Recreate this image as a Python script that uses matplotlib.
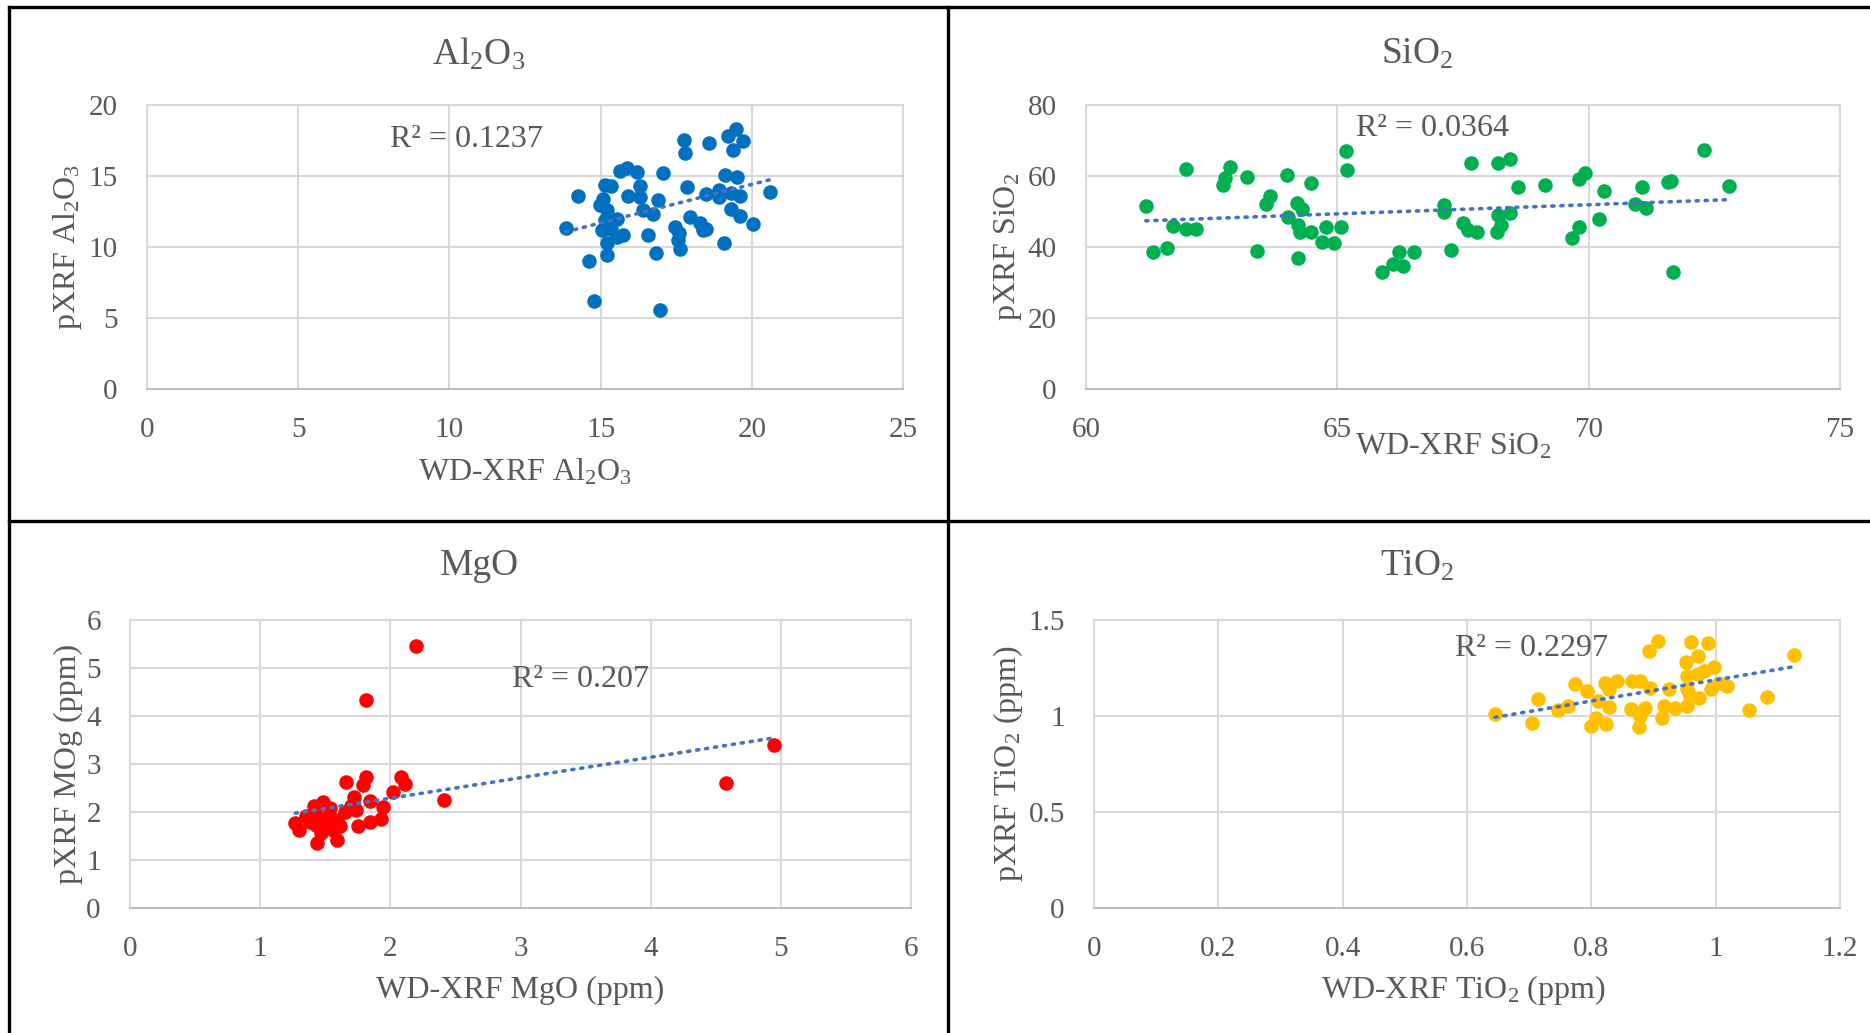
import matplotlib
matplotlib.use("Agg")
import matplotlib.pyplot as plt
from matplotlib.lines import Line2D
import numpy as np

plt.rcParams['font.family'] = ['Liberation Serif', 'DejaVu Serif']
plt.rcParams['mathtext.fontset'] = 'custom'
plt.rcParams['mathtext.rm'] = 'Liberation Serif'
plt.rcParams['mathtext.it'] = 'Liberation Serif:italic'

# ---------------- data ----------------
al_x = [13.85, 14.24, 14.63, 14.78, 15.14, 15.36, 15.07, 14.98, 15.2, 15.14, 15.53, 15.03, 15.36,
        15.75, 15.2, 15.2, 15.64, 15.86, 16.2, 16.3, 15.9, 16.3, 16.4, 16.74, 16.9, 17.05, 16.57,
        16.83, 16.98, 17.75, 17.8, 17.86, 17.46, 17.6, 17.57, 17.62, 17.95, 18.28, 18.5, 18.37,
        18.6, 18.5, 18.9, 18.9, 19.1, 19.5, 19.3, 19.6, 19.3, 19.6, 19.09, 20.04, 20.6, 19.2,
        19.47, 19.7, 19.38, 15.25, 15.53]
al_y = [11.36, 13.6, 9.0, 6.2, 14.37, 14.3, 13.4, 12.96, 12.6, 11.9, 12.0, 11.2, 11.3,
        10.85, 10.26, 9.44, 15.38, 15.54, 15.3, 14.3, 13.6, 13.5, 12.6, 12.3, 13.3, 15.19, 10.85,
        9.55, 5.56, 17.54, 16.64, 14.25, 11.43, 10.96, 10.5, 9.84, 12.1, 11.7, 11.3, 11.2,
        17.3, 13.7, 14.0, 13.5, 15.07, 14.9, 13.8, 13.6, 12.65, 12.2, 10.26, 11.6, 13.9, 17.8,
        18.3, 17.46, 16.8, 11.4, 10.7]

si_x = [61.19, 61.33, 61.62, 61.98, 61.74, 61.99, 62.19, 62.86, 62.77, 62.73, 63.21, 63.4, 63.66,
        63.58, 64.0, 64.19, 64.29, 64.02, 64.22, 64.26, 64.48, 64.48, 64.22, 64.77, 64.69, 64.94,
        65.07, 65.17, 65.19, 65.89, 66.11, 66.3, 66.23, 66.53, 67.13, 67.13, 67.27, 67.5, 67.59,
        67.77, 67.65, 68.19, 68.43, 68.2, 68.43, 68.26, 68.17, 68.6, 69.13, 69.66, 69.81, 69.81,
        69.93, 70.2, 70.31, 70.92, 71.14, 71.07, 71.58, 71.64, 71.68, 72.3, 72.79]
si_y = [51.5, 38.5, 39.8, 62.0, 46.0, 45.0, 45.2, 62.6, 59.3, 57.5, 59.6, 38.9, 54.5,
        52.1, 60.3, 52.5, 50.7, 48.4, 46.2, 44.3, 44.3, 57.9, 36.8, 45.7, 41.5, 41.2,
        45.7, 67.0, 61.7, 33.0, 35.2, 34.6, 38.5, 38.7, 51.8, 49.8, 39.2, 46.7, 44.8,
        44.3, 63.6, 63.6, 64.8, 49.0, 49.5, 46.2, 44.3, 56.8, 57.5, 42.6, 45.7, 59.2,
        60.9, 47.8, 55.8, 52.0, 51.1, 56.8, 58.2, 58.6, 32.9, 67.3, 57.2]

mg_x = [2.195, 1.81, 1.66, 1.81, 1.79, 1.72, 2.08, 2.11, 2.02, 2.415, 1.70, 1.74, 1.84, 1.94,
        1.93, 1.84, 1.75, 1.27, 1.30, 1.35, 1.415, 1.48, 1.54, 1.43, 1.53, 1.59, 1.50, 1.43,
        1.56, 1.47, 1.59, 1.44, 1.38, 1.61, 1.65, 4.58, 4.95]
mg_y = [5.45, 4.34, 2.63, 2.73, 2.57, 2.31, 2.73, 2.59, 2.41, 2.24, 2.12, 2.05, 2.22, 2.10,
        1.85, 1.80, 1.70, 1.77, 1.63, 1.91, 2.12, 2.20, 2.08, 1.98, 1.91, 1.84, 1.77, 1.73,
        1.63, 1.56, 1.42, 1.36, 1.80, 1.70, 1.99, 2.61, 3.39]

ti_x = [0.645, 0.705, 0.714, 0.746, 0.763, 0.774, 0.793, 0.81, 0.80, 0.808, 0.824, 0.828, 0.822,
        0.841, 0.828, 0.864, 0.865, 0.879, 0.886, 0.879, 0.876, 0.892, 0.907, 0.895, 0.913, 0.917,
        0.925, 0.934, 0.952, 0.961, 0.972, 0.988, 0.954, 0.972, 0.981, 0.997, 0.954, 0.958, 0.973,
        0.954, 0.993, 1.005, 1.019, 1.053, 1.082, 1.126]
ti_y = [1.012, 0.965, 1.087, 1.03, 1.052, 1.165, 1.13, 1.078, 0.948, 0.99, 0.956, 1.049, 1.17,
        1.183, 1.139, 1.035, 1.183, 1.183, 1.044, 1.0, 0.944, 1.34, 1.389, 1.148, 0.99, 1.052,
        1.139, 1.044, 1.279, 1.383, 1.314, 1.378, 1.209, 1.218, 1.235, 1.253, 1.052, 1.105, 1.096,
        1.139, 1.139, 1.174, 1.157, 1.031, 1.101, 1.317]

titles = ['Al$_2$O$_3$', 'SiO$_2$', 'MgO', 'TiO$_2$']
xlabels = ['WD-XRF Al$_2$O$_3$', 'WD-XRF SiO$_2$', 'WD-XRF MgO (ppm)', 'WD-XRF TiO$_2$ (ppm)']
ylabels = ['pXRF Al$_2$O$_3$', 'pXRF SiO$_2$', 'pXRF MOg (ppm)', 'pXRF TiO$_2$ (ppm)']
r2_texts = ['R² = 0.1237', 'R² = 0.0364', 'R² = 0.207', 'R² = 0.2297']
xticks = [[0, 5, 10, 15, 20, 25], [60, 65, 70, 75], [0, 1, 2, 3, 4, 5, 6],
          [0, 0.2, 0.4, 0.6, 0.8, 1, 1.2]]
xticklabels = [['0', '5', '10', '15', '20', '25'], ['60', '65', '70', '75'],
               ['0', '1', '2', '3', '4', '5', '6'], ['0', '0.2', '0.4', '0.6', '0.8', '1', '1.2']]
yticks = [[0, 5, 10, 15, 20], [0, 20, 40, 60, 80], [0, 1, 2, 3, 4, 5, 6], [0, 0.5, 1, 1.5]]
yticklabels = [['0', '5', '10', '15', '20'], ['0', '20', '40', '60', '80'],
               ['0', '1', '2', '3', '4', '5', '6'], ['0', '0.5', '1', '1.5']]
colors = ['#0070C0', '#00B050', '#FF0000', '#FFC000']

# ---------------- layout ----------------
W, H = 1870, 1033
fig = plt.figure(figsize=(W / 100, H / 100), dpi=100)
fig.patch.set_facecolor('white')

def frac_box(x0, y0, x1, y1):
    return [x0 / W, 1 - y1 / H, (x1 - x0) / W, (y1 - y0) / H]

boxes = [(147, 105, 903, 389), (1086, 105, 1840, 389),
         (130, 620, 911, 908), (1094, 620, 1840, 908)]
title_pos = [(479, 54), (1417, 54), (479, 566), (1417, 566)]
xlabel_pos = [(525, 472), (1453, 447), (520, 990), (1463, 990)]
ylabel_x = [68, 1008, 68, 1008]
r2_pos = [(0.422, 0.878), (0.459, 0.919), (0.577, 0.792), (0.586, 0.90)]

datasets = [(al_x, al_y), (si_x, si_y), (mg_x, mg_y), (ti_x, ti_y)]
grey_text = '#595959'
grid_c = '#d9d9d9'

for i, (xs, ys) in enumerate(datasets):
    ax = fig.add_axes(frac_box(*boxes[i]))
    xs = np.array(xs); ys = np.array(ys)
    ax.scatter(xs, ys, s=110, color=colors[i], zorder=3, linewidths=0)
    coef = np.polyfit(xs, ys, 1)
    xx = np.array([xs.min(), xs.max()])
    ax.plot(xx, np.polyval(coef, xx), color='#4472C4', lw=2.6, ls=(0, (0.6, 1.9)),
            dash_capstyle='round', zorder=4)
    ax.set_xlim(xticks[i][0], xticks[i][-1])
    ax.set_ylim(yticks[i][0], yticks[i][-1])
    ax.set_xticks(xticks[i]); ax.set_xticklabels(xticklabels[i])
    ax.set_yticks(yticks[i]); ax.set_yticklabels(yticklabels[i])
    ax.tick_params(length=0, labelsize=21, labelcolor=grey_text)
    ax.tick_params(axis='x', pad=20)
    ax.tick_params(axis='y', pad=21)
    ax.grid(True, color=grid_c, lw=1.5, zorder=0)
    ax.set_axisbelow(True)
    for sp in ax.spines.values():
        sp.set_color(grid_c); sp.set_linewidth(1.5)
    ax.spines['bottom'].set_color('#bfbfbf')
    ax.text(r2_pos[i][0], r2_pos[i][1], r2_texts[i], transform=ax.transAxes,
            ha='center', va='center', fontsize=23, color=grey_text, zorder=5)
    # titles and labels in figure pixels
    tx, ty = title_pos[i]
    fig.text(tx / W, 1 - ty / H, titles[i], ha='center', va='center', fontsize=27, color=grey_text)
    lx, ly = xlabel_pos[i]
    fig.text(lx / W, 1 - ly / H, xlabels[i], ha='center', va='center', fontsize=23, color=grey_text)
    b = boxes[i]
    fig.text(ylabel_x[i] / W, 1 - ((b[1] + b[3]) / 2) / H, ylabels[i], ha='center', va='center',
             rotation=90, fontsize=23, color=grey_text)

# table borders
def hline(y, x0, x1):
    fig.add_artist(Line2D([x0 / W, x1 / W], [1 - y / H, 1 - y / H], color='black', lw=2.4,
                          transform=fig.transFigure))

def vline(x, y0, y1):
    fig.add_artist(Line2D([x / W, x / W], [1 - y0 / H, 1 - y1 / H], color='black', lw=2.4,
                          transform=fig.transFigure))

hline(7, 9, W)
hline(521, 9, W)
vline(9, 7, H)
vline(948, 7, H)

fig.savefig('out.png', dpi=100, facecolor='white')
